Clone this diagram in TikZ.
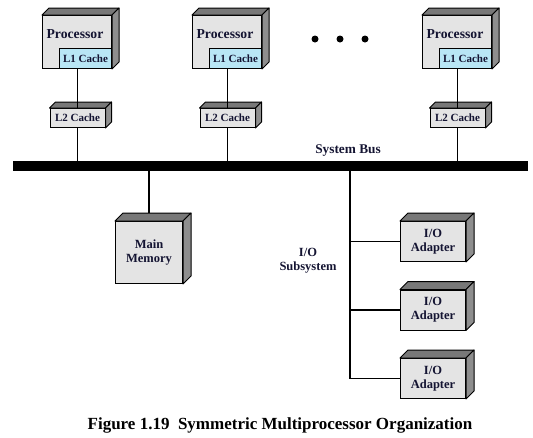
\documentclass[tikz,border=0pt]{standalone}
\usepackage{fontspec}
\setmainfont{Liberation Serif}
\definecolor{frontgray}{HTML}{E4E4E4}
\definecolor{topgray}{HTML}{787878}
\definecolor{sidegray}{HTML}{8E8E8E}
\definecolor{cacheblue}{HTML}{B8E6F5}
\definecolor{txt}{HTML}{141432}
\tikzset{
  front/.style={draw=black, line width=1pt, fill=frontgray, inner sep=0pt, anchor=north west, align=center, text=txt, font=\bfseries\fontsize{12.5}{14}\selectfont},
  topf/.style={draw=black, line width=1pt, fill=topgray, line join=round},
  sidef/.style={draw=black, line width=1pt, fill=sidegray, line join=round},
  l1box/.style={draw=black, line width=1pt, fill=cacheblue, inner sep=0pt, anchor=north west, text=txt, font=\bfseries\fontsize{11}{12}\selectfont},
  link/.style={line width=1.2pt, draw=black},
  lbl/.style={text=txt, font=\bfseries\fontsize{12.5}{14}\selectfont, align=center, inner sep=0pt},
}
\newcommand{\cubefaces}[2]{%
  \filldraw[topf] (#1.north west) -- ([shift={(#2,-#2)}]#1.north west) -- ([shift={(#2,-#2)}]#1.north east) -- (#1.north east) -- cycle;
  \filldraw[sidef] (#1.north east) -- ([shift={(#2,-#2)}]#1.north east) -- ([shift={(#2,-#2)}]#1.south east) -- (#1.south east) -- cycle;
}
\begin{document}
\begin{tikzpicture}[x=1pt,y=-1pt]
\useasboundingbox (0,0) rectangle (533,437);
% processors
\foreach \i/\x in {1/42,2/192,3/422}{
  \node[front, minimum width=69pt, minimum height=53pt] (p\i) at (\x,15) {};
  \cubefaces{p\i}{7}
  \node[lbl, font=\bfseries\fontsize{13.7}{15}\selectfont] (pt\i) at (\x+33,34) {Processor};
  \node[l1box, minimum width=52pt, minimum height=20pt] (c\i) at (\x+17,48) {L1 Cache};
  \node[front, minimum width=55pt, minimum height=19pt, font=\bfseries\fontsize{11}{12}\selectfont] (m\i) at (\x+7.5,108) {L2 Cache};
  \cubefaces{m\i}{6}
}
% dots
\node[circle, fill=black, inner sep=0pt, minimum size=7pt] (d1) at (315,39) {};
\node[circle, fill=black, inner sep=0pt, minimum size=7pt] (d2) at (340,39) {};
\node[circle, fill=black, inner sep=0pt, minimum size=7pt] (d3) at (365,39) {};
% bus
\node[fill=black, inner sep=0pt, minimum width=515pt, minimum height=10pt, anchor=north west] (bus) at (13,161) {};
\node[lbl, anchor=south, font=\bfseries\fontsize{13.3}{15}\selectfont] (buslbl) at (348,157) {System Bus};
% connectors proc -> L2 -> bus
\foreach \i in {1,2,3}{
  \draw[link] (c\i.south -| m\i.north) -- (m\i.north);
  \draw[link] (m\i.south) -- (bus.north -| m\i.south);
}
% main memory
\node[front, minimum width=67pt, minimum height=62pt] (mem) at (115,221) {Main\\Memory};
\cubefaces{mem}{8}
\draw[link] (bus.south -| mem.north) -- ([shift={(0,-8)}]mem.north);
% I/O
\node[lbl] (iolbl) at (308,261) {I/O\\Subsystem};
\foreach \i/\y in {1/221,2/289.5,3/358}{
  \node[front, minimum width=65pt, minimum height=40pt] (a\i) at (400,\y) {I/O\\Adapter};
  \cubefaces{a\i}{8}
}
\coordinate (trunk) at (350,200);
\draw[link] (bus.south -| trunk) |- (a3.west);
\draw[link] (a1.west -| trunk) -- (a1.west);
\draw[link] (a2.west -| trunk) -- (a2.west);
% caption
\node[lbl, text=black, font=\bfseries\fontsize{17}{18}\selectfont] (cap) at (280,425) {Figure 1.19\ \ Symmetric Multiprocessor Organization};
\end{tikzpicture}
\end{document}
